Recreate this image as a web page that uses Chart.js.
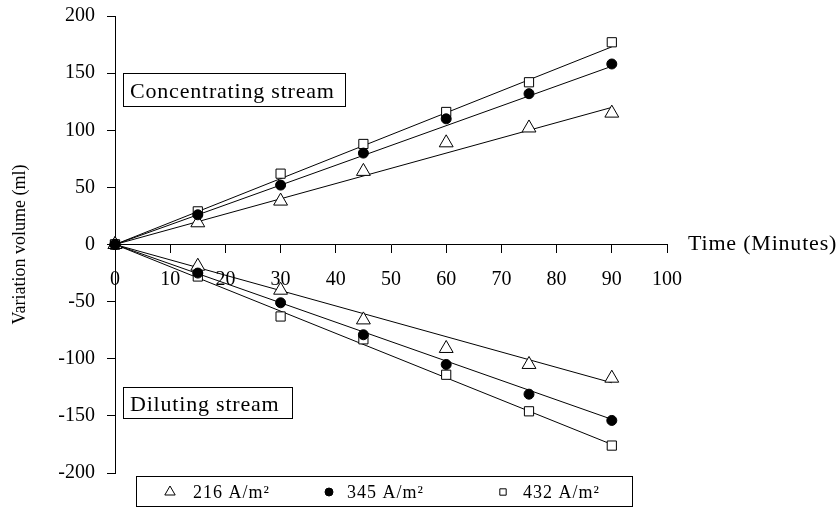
<!DOCTYPE html>
<html>
<head>
<meta charset="utf-8">
<script src="https://cdn.jsdelivr.net/npm/chart.js@4.4.0/dist/chart.umd.min.js"></script>
<style>
    html, body { margin: 0; padding: 0; background: #fff; }
    #wrap { width: 839px; height: 514px; position: relative; }
</style>
</head>
<body>
<div id="wrap"><canvas id="grafico"></canvas></div>
<script>
// Dados
const tempos = [0, 15, 30, 45, 60, 75, 90];
const rotulos = ['216 A/m²', '345 A/m²', '432 A/m²'];
const conc216 = [0, 19, 38, 64, 89, 102, 115];
const conc345 = [0, 26, 52, 80, 110, 132, 158];
const conc432 = [0, 29, 62, 88, 116, 142, 177];
const dil216 = [0, -19, -40, -66, -91, -105, -117];
const dil345 = [0, -25, -51, -79, -105, -131, -154];
const dil432 = [0, -28, -63, -83, -114, -146, -176];
// retas de tendência (início e fim)
const retaX = [0, 90];
const retaConc = [[0, 120], [0, 156], [0, 173]];
const retaDil = [[0, -121], [0, -153], [0, -175]];

const fonte = "'Liberation Serif', 'Times New Roman', serif";
const estilos = ['triangle', 'circle', 'rect'];
const raios = [8, 5, 6.5];
const preenchimentos = ['#fff', '#000', '#fff'];
const ordens = [1, 0, 1];

function pontos(ys) {
    return tempos.map((t, i) => ({ x: t, y: ys[i] }));
}
function reta(ys) {
    return retaX.map((t, i) => ({ x: t, y: ys[i] }));
}

const datasets = [];
[conc216, conc345, conc432, dil216, dil345, dil432].forEach((ys, i) => {
    const k = i % 3;
    datasets.push({
        label: rotulos[k], data: pontos(ys), order: ordens[k], clip: false,
        pointStyle: estilos[k], pointRadius: raios[k],
        backgroundColor: preenchimentos[k], borderColor: '#000', borderWidth: 1
    });
});
retaConc.concat(retaDil).forEach((ys) => {
    datasets.push({
        label: '', data: reta(ys), order: 2, showLine: true,
        pointRadius: 0, borderColor: '#000', borderWidth: 1
    });
});

// Textos, caixas e legenda desenhados à mão
const extras = {
    id: 'extras',
    afterDraw(chart) {
        const ctx = chart.ctx;
        ctx.save();
        ctx.fillStyle = '#000';
        ctx.strokeStyle = '#000';
        ctx.lineWidth = 1;
        ctx.font = '22px ' + fonte;
        ctx.letterSpacing = '0.8px';
        ctx.textBaseline = 'alphabetic';

        ctx.strokeRect(123.5, 73.5, 222, 33);
        ctx.fillText('Concentrating stream', 130, 98);

        ctx.strokeRect(123.5, 387.5, 169, 31);
        ctx.fillText('Diluting stream', 130, 411);

        ctx.textBaseline = 'middle';
        ctx.fillText('Time (Minutes)', 688, 244);

        // legenda
        ctx.strokeRect(136.5, 476.5, 496, 30);
        const marcadores = [170, 329, 503];
        const textos = [193, 347, 523];
        const raiosLeg = [6, 4, 4.5];
        ctx.font = '18px ' + fonte;
        ctx.letterSpacing = '1px';
        ctx.textBaseline = 'alphabetic';
        rotulos.forEach((r, i) => {
            ctx.fillStyle = preenchimentos[i];
            Chart.helpers.drawPoint(ctx, { pointStyle: estilos[i], radius: raiosLeg[i], borderWidth: 1 }, marcadores[i], 492);
            ctx.fillStyle = '#000';
            ctx.fillText(r, textos[i], 498);
        });
        ctx.restore();
    }
};

const ctx = document.getElementById('grafico').getContext('2d');
new Chart(ctx, {
    type: 'scatter',
    data: { datasets: datasets },
    plugins: [extras],
    options: {
        responsive: true,
        maintainAspectRatio: false,
        animation: false,
        layout: { padding: { left: 0, top: 16, right: 172, bottom: 41 } },
        plugins: {
            legend: { display: false },
            tooltip: { enabled: false }
        },
        scales: {
            x: {
                type: 'linear',
                position: { y: 0 },
                min: 0, max: 100,
                afterFit(scale) { scale.paddingTop = 0; scale.paddingBottom = 0; },
                grid: { drawOnChartArea: false, drawTicks: true, tickLength: 8, color: '#000' },
                border: { color: '#000', width: 1 },
                ticks: { stepSize: 10, color: '#000', padding: 15, maxRotation: 0,
                    font: { family: fonte, size: 20 } }
            },
            y: {
                type: 'linear',
                position: 'left',
                min: -200, max: 200,
                afterFit(scale) { scale.width = 115; scale.paddingTop = 0; scale.paddingBottom = 0; },
                grid: { drawOnChartArea: false, drawTicks: true, tickLength: 8, color: '#000' },
                border: { color: '#000', width: 1 },
                ticks: { stepSize: 50, color: '#000', padding: 12,
                    font: { family: fonte, size: 20 } },
                title: {
                    display: true, text: 'Variation volume (ml)', color: '#000',
                    font: { family: fonte, size: 18 }, padding: { top: 9, bottom: 0 }
                }
            }
        }
    }
});
</script>
</body>
</html>
